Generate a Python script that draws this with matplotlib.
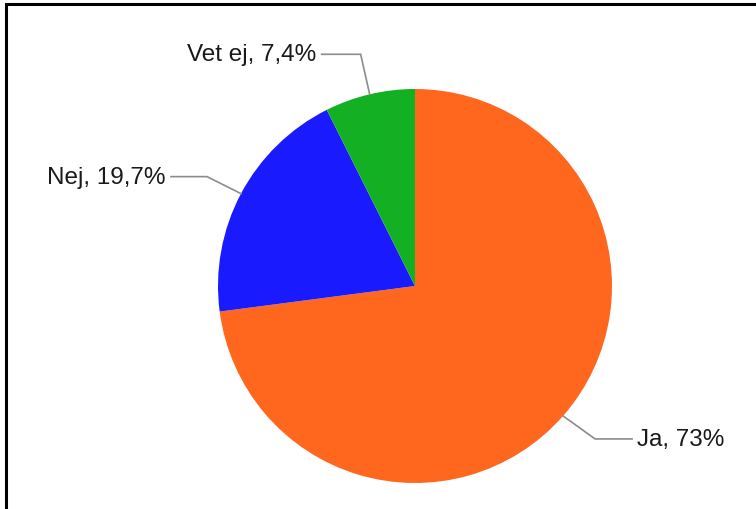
import numpy as np
import matplotlib.pyplot as plt
from matplotlib.patches import Rectangle

labels = ["Ja", "Nej", "Vet ej"]
values = [73.0, 19.7, 7.4]
value_text = ["73%", "19,7%", "7,4%"]
colors = ["#FF671F", "#1A1AFF", "#12B022"]

W, H = 756, 510
fig = plt.figure(figsize=(W / 100, H / 100), dpi=100)
ax = fig.add_axes([0, 0, 1, 1])
ax.set_xlim(0, W)
ax.set_ylim(0, H)
ax.set_aspect("equal")
ax.axis("off")

# outer frame (only left/top are visible in the crop)
fig.patches.append(Rectangle((6 / W, -0.1), 1.2, (H - 5) / H + 0.1,
                             transform=fig.transFigure, fill=False,
                             edgecolor="black", linewidth=2.2))

cx, cy, r = 415, 223, 197
wedges, _ = ax.pie(values, colors=colors, startangle=90, counterclock=False,
                   center=(cx, cy), radius=r, frame=True,
                   wedgeprops=dict(linewidth=0))
ax.set_xlim(0, W)
ax.set_ylim(0, H)
ax.axis("off")

# leader lines: (elbow dx, elbow dy, horizontal length)
leaders = {
    "Ja": (32, -23, 37),
    "Nej": (-34, 17, -36),
    "Vet ej": (-9, 40, -39),
}
for w, lab, vt in zip(wedges, labels, value_text):
    ang = np.deg2rad((w.theta1 + w.theta2) / 2)
    x0 = cx + r * np.cos(ang)
    y0 = cy + r * np.sin(ang)
    dx, dy, hl = leaders[lab]
    x1, y1 = x0 + dx, y0 + dy
    x2 = x1 + hl
    ax.plot([x0, x1, x2], [y0, y1, y1], color="#8C8C8C", lw=1.2,
            solid_joinstyle="miter")
    ha = "left" if hl > 0 else "right"
    ax.text(x2 + (5 if hl > 0 else -5), y1, f"{lab}, {vt}", ha=ha,
            va="center", fontsize=17.5, family="Liberation Sans",
            color="#1a1a1a")

fig.savefig("out.png", dpi=100)
